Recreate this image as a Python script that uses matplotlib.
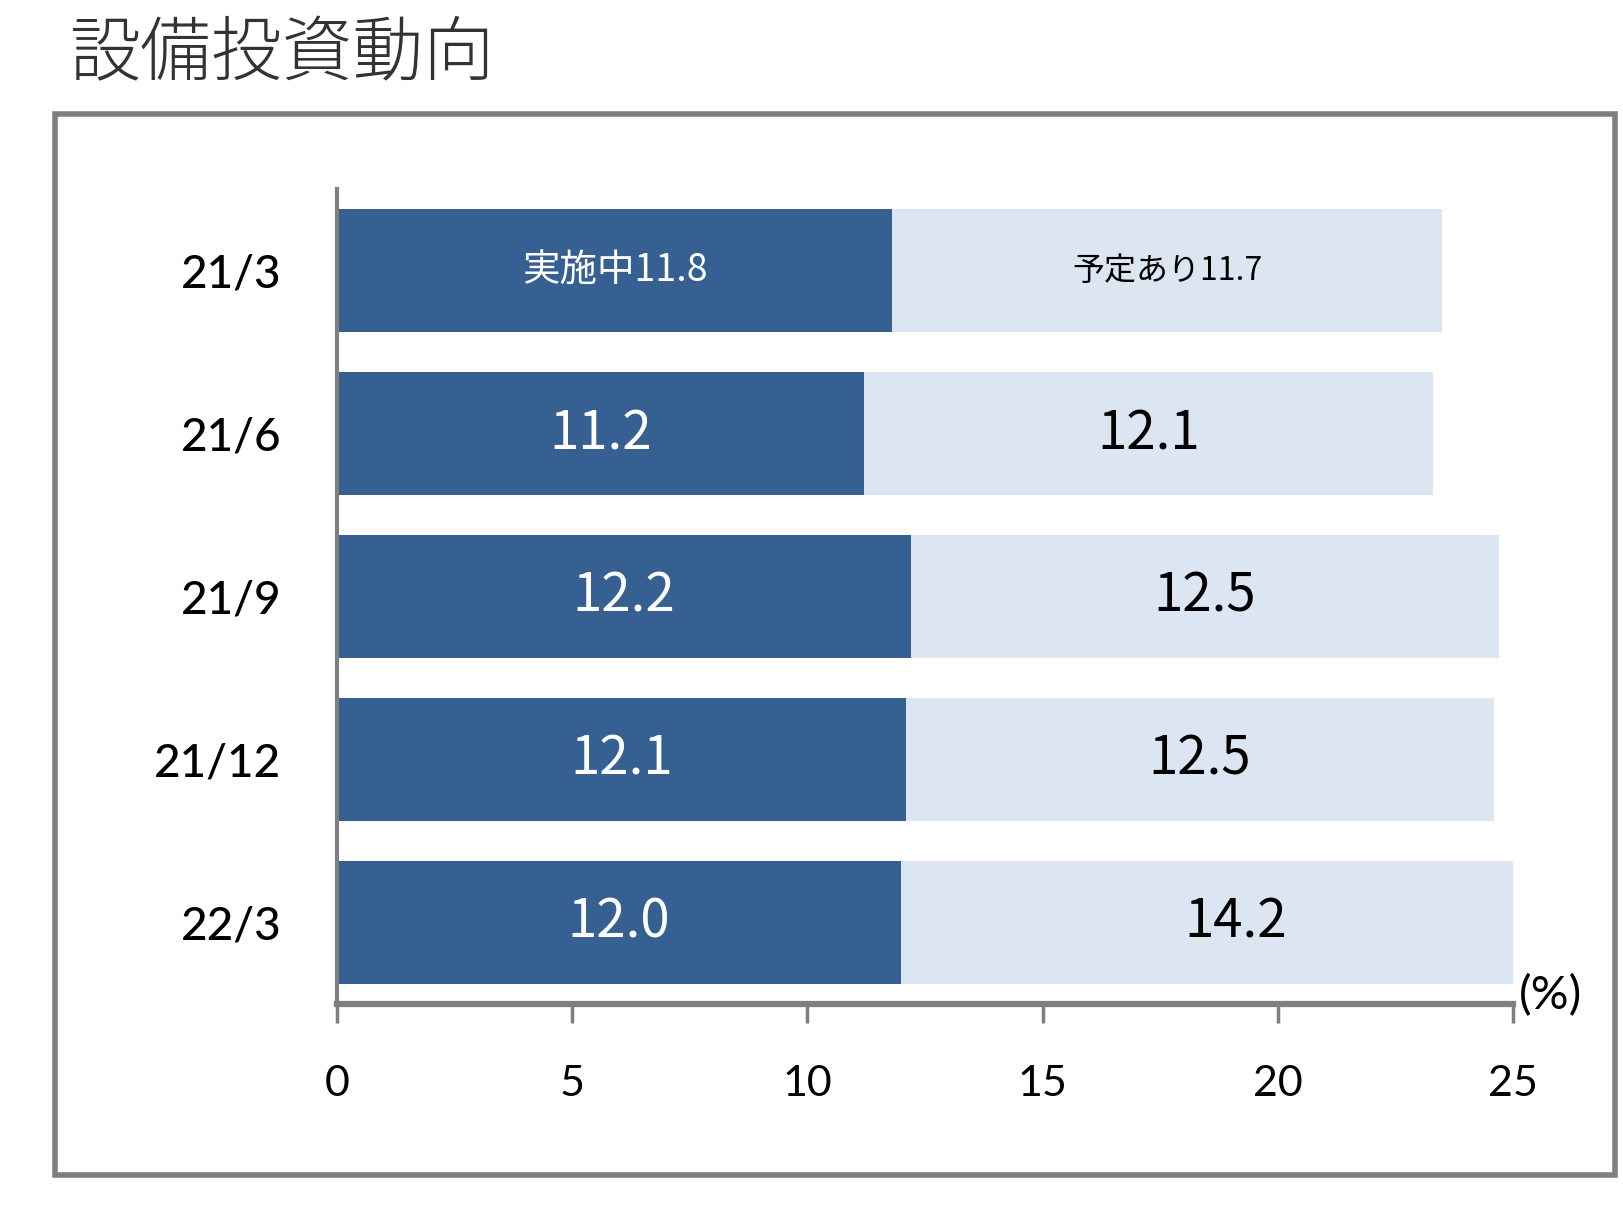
import matplotlib.pyplot as plt
from matplotlib.patches import Rectangle

# data
periods = ['21/3', '21/6', '21/9', '21/12', '22/3']
doing = [11.8, 11.2, 12.2, 12.1, 12.0]      # 実施中
planned = [11.7, 12.1, 12.5, 12.5, 14.2]    # 予定あり
xticks = [0, 5, 10, 15, 20, 25]

dark = '#365f92'
light = '#dce6f2'
grey = '#7f7f7f'

fig = plt.figure(figsize=(16.23, 12.14), dpi=100)
ax = fig.add_axes([0.2076, 0.173, 0.7246, 0.6713])

ypos = list(range(len(periods)))
ax.barh(ypos, doing, height=0.755, color=dark)
ax.barh(ypos, planned, left=doing, height=0.755, color=light)

# labels inside the bars
cjk = ['Noto Sans CJK JP', 'DejaVu Sans']
for i, (d, p) in enumerate(zip(doing, planned)):
    if i == 0:
        ax.text(d / 2, i, f'実施中{d:.1f}', color='white', ha='center', va='center',
                fontsize=27, family=cjk)
        ax.text(d + p / 2, i, f'予定あり{p:.1f}', color='black', ha='center', va='center',
                fontsize=23, family=cjk)
    else:
        ax.text(d / 2, i, f'{d:.1f}', color='white', ha='center', va='center',
                fontsize=38, family=cjk)
        ax.text(d + p / 2, i, f'{p:.1f}', color='black', ha='center', va='center',
                fontsize=38, family=cjk)

ax.set_xlim(0, 25)
ax.set_ylim(len(periods) - 0.5, -0.5)
ax.set_xticks(xticks)
ax.set_xticklabels([str(t) for t in xticks], fontsize=31, family='Lato')
ax.set_yticks(ypos)
ax.set_yticklabels(periods, fontsize=33, family='Lato', fontweight='medium')

for s in ['top', 'right']:
    ax.spines[s].set_visible(False)
ax.spines['left'].set_color(grey)
ax.spines['left'].set_linewidth(3)
ax.spines['bottom'].set_color(grey)
ax.spines['bottom'].set_linewidth(4.5)
ax.tick_params(axis='y', length=0, pad=40)
ax.tick_params(axis='x', direction='out', length=14, width=2.5, color=grey, pad=30)

ax.text(1.005, 0.01, '(%)', transform=ax.transAxes, fontsize=34, family='Lato',
        ha='left', va='center')

# outer frame and title
fig.patches.append(Rectangle((55 / 1623, 1 - 1175 / 1214), 1560 / 1623, 1061 / 1214,
                             transform=fig.transFigure, fill=False, edgecolor=grey,
                             linewidth=4))
fig.text(70 / 1623, 1 - 56 / 1214, '設備投資動向', fontsize=51, va='center', ha='left',
         family=cjk, fontweight='light', color='#333333')

plt.savefig('out.png', dpi=100)
plt.close()
